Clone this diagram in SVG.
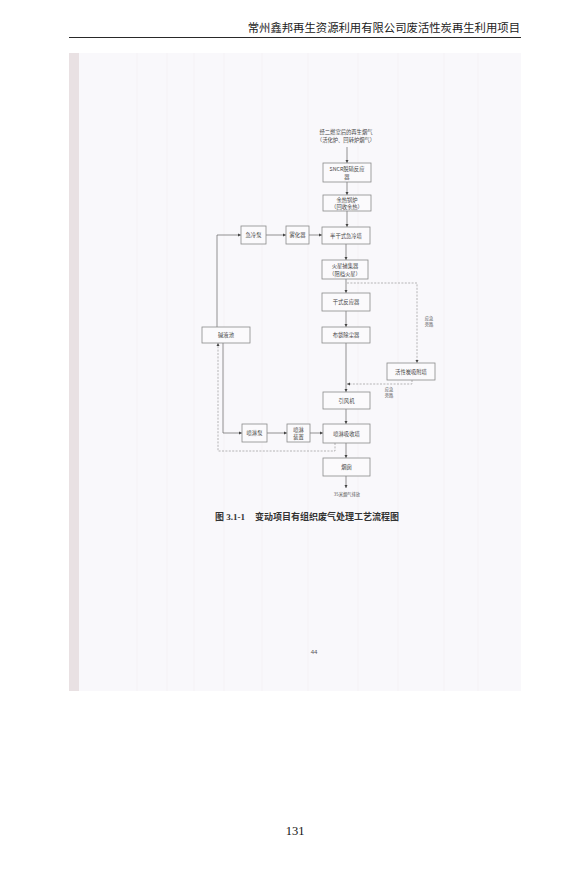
<svg xmlns="http://www.w3.org/2000/svg" width="571" height="874" viewBox="0 0 571 874">
<defs>
<marker id="ah" viewBox="0 0 6 6" refX="6" refY="3" markerWidth="3.2" markerHeight="3.2" orient="auto" markerUnits="userSpaceOnUse">
<path d="M0,0 L6,3 L0,6 Z" fill="#444"/>
</marker>
</defs>
<style>
.hdr{font-family:"Liberation Sans","Noto Sans CJK SC",sans-serif;font-size:11.35px;fill:#222}
.box{fill:#fbfafc;stroke:#8a8a8a;stroke-width:0.8}
.t{font-family:"Noto Sans CJK SC",sans-serif;font-size:5.3px;fill:#444;text-anchor:middle}
.s{font-family:"Noto Sans CJK SC",sans-serif;font-size:4.3px;fill:#555;text-anchor:middle}
.ln{fill:none;stroke:#666;stroke-width:0.7}
.da{fill:none;stroke:#888;stroke-width:0.6;stroke-dasharray:2 1.4}
.cap{font-family:"Liberation Serif","Noto Sans CJK SC",serif;font-size:9px;fill:#333;font-weight:bold}
</style>
<rect width="571" height="874" fill="#ffffff"/>
<!-- header -->
<text class="hdr" x="520" y="32" text-anchor="end">常州鑫邦再生资源利用有限公司废活性炭再生利用项目</text>
<line x1="69" y1="37.5" x2="521" y2="37.5" stroke="#111" stroke-width="0.9"/>
<!-- scanned page -->
<rect x="69" y="53" width="452" height="638" fill="#f9f8fb"/>
<rect x="69" y="53" width="10" height="638" fill="#e9e1e3"/>
<g stroke="#f1eef2" stroke-width="0.6">
<line x1="137" y1="53" x2="137" y2="691"/>
<line x1="167" y1="53" x2="167" y2="691"/>
<line x1="194" y1="53" x2="194" y2="691"/>
<line x1="224" y1="53" x2="224" y2="691"/>
<line x1="262" y1="53" x2="262" y2="691"/>
<line x1="308" y1="53" x2="308" y2="691"/>
<line x1="358" y1="53" x2="358" y2="691"/>
<line x1="398" y1="53" x2="398" y2="691"/>
<line x1="444" y1="53" x2="444" y2="691"/>
<line x1="478" y1="53" x2="478" y2="691"/>
</g>
<!-- connectors -->
<g id="connectors">
<path class="ln" d="M347 147 V163" marker-end="url(#ah)"/>
<path class="ln" d="M347 182 V195" marker-end="url(#ah)"/>
<path class="ln" d="M347 211 V227" marker-end="url(#ah)"/>
<path class="ln" d="M346 244 V260" marker-end="url(#ah)"/>
<path class="ln" d="M346 279 V293" marker-end="url(#ah)"/>
<path class="ln" d="M346 311 V327" marker-end="url(#ah)"/>
<path class="ln" d="M346 343 V392" marker-end="url(#ah)"/>
<path class="ln" d="M346 409 V424" marker-end="url(#ah)"/>
<path class="ln" d="M346 443 V458" marker-end="url(#ah)"/>
<path class="ln" d="M346 476 V488" marker-end="url(#ah)"/>
<path class="ln" d="M217 327 V235 H241" marker-end="url(#ah)"/>
<path class="ln" d="M266 235 H286" marker-end="url(#ah)"/>
<path class="ln" d="M309 235 H322" marker-end="url(#ah)"/>
<path class="ln" d="M223 343 V433 H242" marker-end="url(#ah)"/>
<path class="ln" d="M267 433 H287" marker-end="url(#ah)"/>
<path class="ln" d="M310 433 H323" marker-end="url(#ah)"/>
<path class="da" d="M347 283 H417 V363" marker-end="url(#ah)"/>
<path class="da" d="M412 380 V384 H347" marker-end="url(#ah)"/>
<path class="da" d="M335 443 V451 H218 V343" marker-end="url(#ah)"/>
</g>
<!-- nodes -->
<g id="src">
<text class="t" x="346" y="134">经二燃室后的再生烟气</text>
<text class="t" x="346" y="142">（活化炉、回转炉烟气）</text>
</g>
<g id="sncr">
<rect class="box" x="323" y="163" width="48" height="19"/>
<text class="t" x="347" y="171">SNCR脱硝反应</text>
<text class="t" x="347" y="179">器</text>
</g>
<g id="yurebl">
<rect class="box" x="323" y="195" width="48" height="16"/>
<text class="t" x="347" y="202">余热锅炉</text>
<text class="t" x="347" y="209">（回收余热）</text>
</g>
<g id="bangan">
<rect class="box" x="322" y="227" width="48" height="17"/>
<text class="t" x="346" y="237.5">半干式急冷塔</text>
</g>
<g id="jilengbeng">
<rect class="box" x="241" y="226" width="25" height="18"/>
<text class="t" x="253.5" y="237">急冷泵</text>
</g>
<g id="wuhuaqi">
<rect class="box" x="286" y="226" width="23" height="18"/>
<text class="t" x="297.5" y="237">雾化器</text>
</g>
<g id="huoxing">
<rect class="box" x="322" y="260" width="46" height="19"/>
<text class="t" x="345" y="268">火星捕集器</text>
<text class="t" x="345" y="276">（阻档火星）</text>
</g>
<g id="ganshi">
<rect class="box" x="322" y="293" width="48" height="18"/>
<text class="t" x="346" y="304">干式反应器</text>
</g>
<g id="budai">
<rect class="box" x="322" y="327" width="48" height="16"/>
<text class="t" x="346" y="337">布袋除尘器</text>
</g>
<g id="jianyechi">
<rect class="box" x="202" y="327" width="48" height="16"/>
<text class="t" x="226" y="337">碱液池</text>
</g>
<g id="huoxingtan">
<rect class="box" x="387" y="363" width="48" height="17"/>
<text class="t" x="411" y="373.5">活性炭吸附塔</text>
</g>
<g id="label1">
<text class="s" x="429" y="320">应急</text>
<text class="s" x="429" y="326">旁路</text>
</g>
<g id="label2">
<text class="s" x="389" y="391">应急</text>
<text class="s" x="389" y="397">旁路</text>
</g>
<g id="yinfengji">
<rect class="box" x="323" y="392" width="47" height="17"/>
<text class="t" x="346.5" y="402.5">引风机</text>
</g>
<g id="penlinbeng">
<rect class="box" x="242" y="424" width="25" height="18"/>
<text class="t" x="254.5" y="435">喷淋泵</text>
</g>
<g id="penlinzz">
<rect class="box" x="287" y="424" width="23" height="18"/>
<text class="t" x="298.5" y="431.5">喷淋</text>
<text class="t" x="298.5" y="439">装置</text>
</g>
<g id="penlinxst">
<rect class="box" x="323" y="424" width="47" height="19"/>
<text class="t" x="346.5" y="435.5">喷淋吸收塔</text>
</g>
<g id="yancong">
<rect class="box" x="323" y="458" width="47" height="18"/>
<text class="t" x="346.5" y="469">烟囱</text>
</g>
<g id="out">
<text class="s" x="347" y="496">35米烟气排放</text>
</g>
<!-- caption -->
<text class="cap" x="215" y="520">图 3.1-1</text>
<text class="cap" x="255" y="520" style="font-family:'Noto Sans CJK SC',sans-serif">变动项目有组织废气处理工艺流程图</text>
<text x="314" y="654" font-family="Liberation Sans,sans-serif" font-size="6" fill="#555" text-anchor="middle">44</text>
<text x="295" y="835" font-family="Liberation Serif,serif" font-size="12.5" fill="#111" text-anchor="middle">131</text>
</svg>
